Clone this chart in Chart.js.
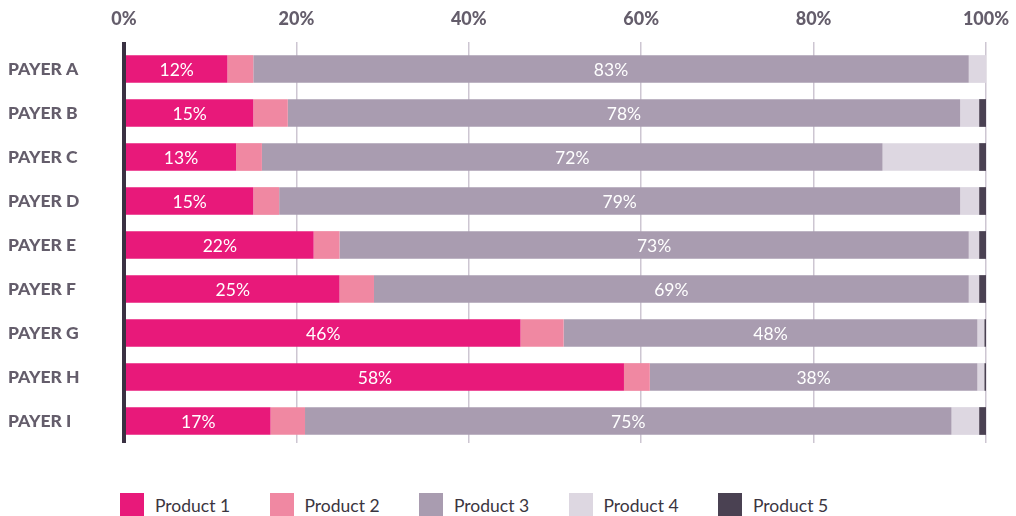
<!DOCTYPE html>
<html>
<head>
<meta charset="utf-8">
<script src="https://cdn.jsdelivr.net/npm/chart.js@4/dist/chart.umd.min.js"></script>
<style>
  body { margin: 0; background: #fff; font-family: Lato, sans-serif; }
  #wrap { position: relative; width: 1016px; height: 516px; overflow: hidden; }
  #chart { display: block; }
  #legend { position: absolute; left: 120px; top: 493px; display: flex; margin: 0; padding: 0; list-style: none; }
  #legend li { display: flex; align-items: center; width: 149.5px; font-size: 17.5px; color: #3b3540; }
  #legend span.box { display: inline-block; width: 24px; height: 24px; margin-right: 11px; }
</style>
</head>
<body>
<div id="wrap">
  <canvas id="chart" width="1016" height="490"></canvas>
  <ul id="legend"></ul>
</div>
<script>
const payers = ["PAYER A", "PAYER B", "PAYER C", "PAYER D", "PAYER E", "PAYER F", "PAYER G", "PAYER H", "PAYER I"];
const productNames = ["Product 1", "Product 2", "Product 3", "Product 4", "Product 5"];
const product1 = [12, 15, 13, 15, 22, 25, 46, 58, 17];
const product2 = [3, 4, 3, 3, 3, 4, 5, 3, 4];
const product3 = [83, 78, 72, 79, 73, 69, 48, 38, 75];
const product4 = [2, 2.2, 11.2, 2.2, 1.2, 1.2, 0.8, 0.8, 3.2];
const product5 = [0.2, 0.8, 0.8, 0.8, 0.8, 0.8, 0.2, 0.2, 0.8];
const xTicks = [0, 20, 40, 60, 80, 100];

const colors = ["#e8197a", "#f088a2", "#a99cb0", "#ddd7e1", "#4a4152"];
const labelled = [true, false, true, false, false];
const series = [product1, product2, product3, product4, product5];

// white % labels centred inside the labelled segments
const segmentLabels = {
  id: "segmentLabels",
  afterDatasetsDraw(chart) {
    const { ctx } = chart;
    ctx.save();
    ctx.font = "400 17.5px Lato, sans-serif";
    ctx.fillStyle = "#ffffff";
    ctx.textAlign = "center";
    ctx.textBaseline = "middle";
    chart.data.datasets.forEach((ds, i) => {
      if (!ds.showValue) return;
      chart.getDatasetMeta(i).data.forEach((bar, j) => {
        const { x, y, base } = bar.getProps(["x", "y", "base"], true);
        ctx.fillText(`${Math.round(ds.data[j])}%`, (x + base) / 2, y + 1);
      });
    });
    ctx.restore();
  },
};

const chart = new Chart(document.getElementById("chart"), {
  type: "bar",
  data: {
    labels: payers,
    datasets: series.map((data, i) => ({
      label: productNames[i],
      data,
      backgroundColor: colors[i],
      borderWidth: 0,
      showValue: labelled[i],
      categoryPercentage: 1,
      barPercentage: 0.63,
    })),
  },
  plugins: [segmentLabels],
  options: {
    indexAxis: "y",
    responsive: false,
    animation: false,
    layout: { padding: { left: 8, right: 30, top: 0, bottom: 47 } },
    plugins: {
      legend: { display: false },
      tooltip: { enabled: true },
    },
    scales: {
      x: {
        position: "top",
        stacked: true,
        min: 0,
        max: 100,
        afterFit(scale) {
          scale.height = 47;
          // keep the "100%" label from pushing the plot area inwards
          scale.paddingLeft = 0;
          scale.paddingRight = 0;
        },
        afterBuildTicks(scale) { scale.ticks = xTicks.map((v) => ({ value: v })); },
        border: { display: false },
        grid: {
          drawTicks: true,
          tickLength: 5,
          color: (c) => (c.index === 0 ? "#3a3142" : "#cdc6d2"),
          lineWidth: (c) => (c.index === 0 ? 4 : 1.5),
        },
        ticks: {
          padding: 12,
          color: "#645d6b",
          font: { family: "Lato", size: 18, weight: 900 },
          callback: (v) => `${v}%`,
        },
      },
      y: {
        stacked: true,
        afterFit(scale) { scale.width = 116; },
        border: { display: false },
        grid: { display: false },
        ticks: {
          crossAlign: "far",
          color: "#645d6b",
          font: { family: "Lato", size: 17.5, weight: 900 },
        },
      },
    },
  },
});

// html legend
const legendEl = document.getElementById("legend");
chart.data.datasets.forEach((ds) => {
  const li = document.createElement("li");
  const box = document.createElement("span");
  box.className = "box";
  box.style.background = ds.backgroundColor;
  li.appendChild(box);
  li.appendChild(document.createTextNode(ds.label));
  legendEl.appendChild(li);
});
</script>
</body>
</html>
